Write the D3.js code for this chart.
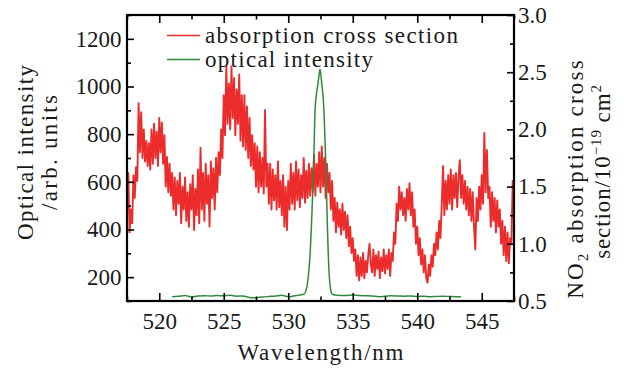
<!DOCTYPE html>
<html>
<head>
<meta charset="utf-8">
<script src="https://cdn.jsdelivr.net/npm/d3@7"></script>
<style>
  body { margin: 0; background: #fff; }
  svg text { font-family: "Liberation Serif", "Times New Roman", serif; fill: #1a1a1a; }
</style>
</head>
<body>
<div id="chart"></div>
<script>
// NO2 absorption cross section (10^-19 cm^2), read every 0.1 nm from 517.5 nm
var crossStart = 517.5
var crossStep = 0.1
var crossValues = [
  1.45,1.62,1.10,1.30,1.18,1.60,1.40,1.67,1.55,2.23,
  1.80,2.15,1.75,2.00,1.72,1.90,1.68,1.88,1.65,2.00,
  1.70,2.05,1.75,1.98,1.68,2.10,1.80,2.06,1.70,1.95,
  1.50,1.76,1.45,1.70,1.42,1.62,1.30,1.58,1.25,1.55,
  1.35,1.62,1.18,1.50,1.30,1.58,1.20,1.45,1.15,1.52,
  1.30,1.60,1.12,1.48,1.25,1.65,1.18,1.84,1.30,1.62,
  1.20,1.70,1.35,1.60,1.15,1.72,1.40,1.66,1.30,1.75,
  1.45,1.80,1.60,2.00,1.75,2.30,1.95,2.55,2.05,2.40,
  2.00,2.55,2.10,2.45,1.95,2.35,2.05,2.48,1.90,2.30,
  1.85,2.30,1.82,2.20,1.75,2.10,1.68,1.95,1.65,1.88,
  1.50,1.85,1.45,1.80,1.50,1.75,1.44,2.17,1.50,1.70,
  1.35,1.70,1.30,1.65,1.38,1.60,1.30,1.72,1.32,1.55,
  1.25,1.60,1.15,1.50,1.12,1.55,1.30,1.70,1.35,1.62,
  1.30,1.72,1.38,1.65,1.32,1.60,1.40,1.75,1.36,1.64,
  1.40,1.70,1.42,1.66,1.45,1.78,1.42,1.70,1.50,1.80,
  1.45,1.85,1.50,1.75,1.40,1.70,1.45,1.62,1.30,1.55,
  1.20,1.40,1.10,1.36,1.15,1.30,1.08,1.35,1.12,1.28,
  1.05,1.25,0.98,1.15,0.92,1.05,0.85,0.95,0.72,0.90,
  0.68,0.88,0.72,0.92,0.70,0.85,0.75,0.90,1.00,0.82,
  0.75,0.95,0.72,0.90,0.78,0.93,0.70,0.88,0.76,0.95,
  0.74,0.90,0.78,0.95,0.72,0.92,0.85,1.10,1.00,1.35,
  1.20,1.50,1.30,1.45,1.25,1.40,1.20,1.48,1.30,1.53,
  1.25,1.45,1.15,1.30,1.00,1.15,0.90,1.05,0.82,0.95,
  0.75,0.90,0.70,0.66,0.82,0.72,0.90,0.80,1.00,0.90,
  1.10,0.95,1.20,1.05,1.35,1.68,1.25,1.55,1.30,1.60,
  1.35,1.65,1.30,1.60,1.40,1.62,1.32,1.58,1.73,1.40,
  1.60,1.35,1.55,1.30,1.50,1.25,1.48,1.20,1.45,1.15,
  0.95,1.40,1.20,1.50,1.30,1.60,1.35,1.97,1.45,1.82,
  1.40,1.50,1.15,1.45,1.20,1.40,1.10,1.38,1.15,1.30,
  1.00,1.20,0.90,1.15,0.85,1.10,0.83,1.05,1.00,1.55,
  1.20
]

// optical intensity (arb. units)
var intensityNm = [521.0,521.5,522.0,522.5,523.0,523.5,524.0,524.5,525.0,525.5,526.0,526.5,527.0,527.5,528.0,528.5,529.0,529.5,530.0,530.5,530.9,531.2,531.45,531.6,531.7,531.8,531.9,532.0,532.07,532.15,532.21,532.3,532.38,532.46,532.55,532.62,532.7,532.78,532.85,532.95,533.03,533.1,533.18,533.28,533.37,533.5,533.76,534.5,535.0,535.5,536.0,536.5,537.0,537.5,538.0,538.5,539.0,539.5,540.0,540.5,541.0,541.5,542.0,542.5,543.0,543.4]
var intensityValues = [118,120,123,117,121,122,121,123,122,124,120,121,115,114,117,119,121,124,118,122,125,128,160,230,300,420,560,740,890,950,980,1010,1045,1072,1040,1000,960,880,770,600,420,300,205,150,132,126,124,123,125,123,122,121,118,120,122,121,120,121,119,120,118,119,120,119,118,118]

var xTicks = [520, 525, 530, 535, 540, 545]
var xMinor = [517.5, 522.5, 527.5, 532.5, 537.5, 542.5, 547.5]
var leftTicks = [200, 400, 600, 800, 1000, 1200]
var leftMinor = [100, 300, 500, 700, 900, 1100, 1300]
var rightTicks = [0.5, 1.0, 1.5, 2.0, 2.5, 3.0]
var rightMinor = [0.75, 1.25, 1.75, 2.25, 2.75]
var legendLabels = ['absorption cross section', 'optical intensity']

var width = 624
var height = 371
var plotLeft = 127, plotRight = 514, plotTop = 15, plotBottom = 301
var red = '#ec2b2b'
var green = '#2f8a3c'

var svg = d3.select('#chart')
  .append('svg')
  .attr('width', width)
  .attr('height', height)

var x = d3.scaleLinear().domain([517.5, 547.5]).range([plotLeft, plotRight])
var yL = d3.scaleLinear().domain([100, 1300]).range([plotBottom, plotTop])
var yR = d3.scaleLinear().domain([0.5, 3.0]).range([plotBottom, plotTop])

svg.append('clipPath')
  .attr('id', 'plot')
  .append('rect')
  .attr('x', plotLeft).attr('y', plotTop)
  .attr('width', plotRight - plotLeft).attr('height', plotBottom - plotTop)

var crossData = crossValues.map((v, i) => [crossStart + i * crossStep, v])
var intensityData = intensityNm.map((n, i) => [n, intensityValues[i]])

svg.append('path')
  .datum(crossData)
  .attr('clip-path', 'url(#plot)')
  .attr('d', d3.line().x(d => x(d[0])).y(d => yR(d[1])))
  .style('fill', 'none')
  .style('stroke', red)
  .style('stroke-width', 1.9)
  .style('stroke-linejoin', 'round')

svg.append('path')
  .datum(intensityData)
  .attr('clip-path', 'url(#plot)')
  .attr('d', d3.line().curve(d3.curveMonotoneX).x(d => x(d[0])).y(d => yL(d[1])))
  .style('fill', 'none')
  .style('stroke', green)
  .style('stroke-width', 1.5)

// axes (ticks point inward)
function styleAxis(g) {
  g.select('.domain').remove()
  g.selectAll('line').style('stroke', '#000').style('stroke-width', 1.6)
  g.selectAll('text').style('font-size', '23px').style('font-family', '"Liberation Serif", serif').style('fill', '#1a1a1a')
}

svg.append('g').attr('transform', 'translate(0,' + plotBottom + ')')
  .call(d3.axisBottom(x).tickValues(xTicks).tickSize(-8).tickPadding(12).tickFormat(d3.format('d')))
  .call(styleAxis)
svg.append('g').attr('transform', 'translate(0,' + plotBottom + ')')
  .call(d3.axisBottom(x).tickValues(xMinor).tickSize(-4.5).tickFormat(''))
  .call(styleAxis)
svg.append('g').attr('transform', 'translate(0,' + plotTop + ')')
  .call(d3.axisTop(x).tickValues(xTicks).tickSize(-8).tickFormat(''))
  .call(styleAxis)
svg.append('g').attr('transform', 'translate(0,' + plotTop + ')')
  .call(d3.axisTop(x).tickValues(xMinor).tickSize(-4.5).tickFormat(''))
  .call(styleAxis)

svg.append('g').attr('transform', 'translate(' + plotLeft + ',0)')
  .call(d3.axisLeft(yL).tickValues(leftTicks).tickSize(-7).tickPadding(5.5).tickFormat(d3.format('d')))
  .call(styleAxis)
svg.append('g').attr('transform', 'translate(' + plotLeft + ',0)')
  .call(d3.axisLeft(yL).tickValues(leftMinor).tickSize(-4).tickFormat(''))
  .call(styleAxis)

svg.append('g').attr('transform', 'translate(' + plotRight + ',0)')
  .call(d3.axisRight(yR).tickValues(rightTicks).tickSize(-7).tickPadding(4).tickFormat(d3.format('.1f')))
  .call(styleAxis)
svg.append('g').attr('transform', 'translate(' + plotRight + ',0)')
  .call(d3.axisRight(yR).tickValues(rightMinor).tickSize(-4).tickFormat(''))
  .call(styleAxis)

svg.append('rect')
  .attr('x', plotLeft).attr('y', plotTop)
  .attr('width', plotRight - plotLeft).attr('height', plotBottom - plotTop)
  .style('fill', 'none')
  .style('stroke', '#000')
  .style('stroke-width', 2.2)

// titles
svg.append('text')
  .attr('x', (plotLeft + plotRight) / 2).attr('y', 360)
  .attr('text-anchor', 'middle')
  .attr('textLength', 166).attr('lengthAdjust', 'spacing')
  .style('font-size', '23px')
  .text('Wavelength/nm')

svg.append('text')
  .attr('transform', 'translate(33,152.5) rotate(-90)')
  .attr('text-anchor', 'middle')
  .attr('textLength', 175).attr('lengthAdjust', 'spacing')
  .style('font-size', '23px')
  .text('Optical intensity')

svg.append('text')
  .attr('transform', 'translate(57,152.5) rotate(-90)')
  .attr('text-anchor', 'middle')
  .attr('textLength', 115).attr('lengthAdjust', 'spacing')
  .style('font-size', '23px')
  .text('/arb. units')

var r1 = svg.append('text')
  .attr('transform', 'translate(583,178.5) rotate(-90)')
  .attr('text-anchor', 'middle')
  .style('font-size', '23px')
  .style('letter-spacing', '2.2px')
r1.append('tspan').text('NO')
r1.append('tspan').attr('dy', 5).style('font-size', '15px').text('2')
r1.append('tspan').attr('dy', -5).text(' absorption cross')

var r2 = svg.append('text')
  .attr('transform', 'translate(610,171.5) rotate(-90)')
  .attr('text-anchor', 'middle')
  .style('font-size', '23px')
  .style('letter-spacing', '0.9px')
r2.append('tspan').text('section/10')
r2.append('tspan').attr('dy', -9).style('font-size', '15px').text('\u221219')
r2.append('tspan').attr('dy', 9).text(' cm')
r2.append('tspan').attr('dy', -9).style('font-size', '15px').text('2')

// legend
var legend = svg.selectAll('.legend')
  .data(legendLabels)
  .enter()
  .append('g')
  .attr('class', 'legend')

legend.append('line')
  .attr('x1', 167).attr('x2', 200)
  .attr('y1', (d, i) => 35.5 + i * 24)
  .attr('y2', (d, i) => 35.5 + i * 24)
  .style('stroke', (d, i) => i === 0 ? red : green)
  .style('stroke-width', 1.5)

legend.append('text')
  .attr('x', 205)
  .attr('y', (d, i) => 43 + i * 24)
  .attr('textLength', (d, i) => i === 0 ? 253 : 168)
  .attr('lengthAdjust', 'spacing')
  .style('font-size', '23px')
  .text(d => d)
</script>
</body>
</html>
